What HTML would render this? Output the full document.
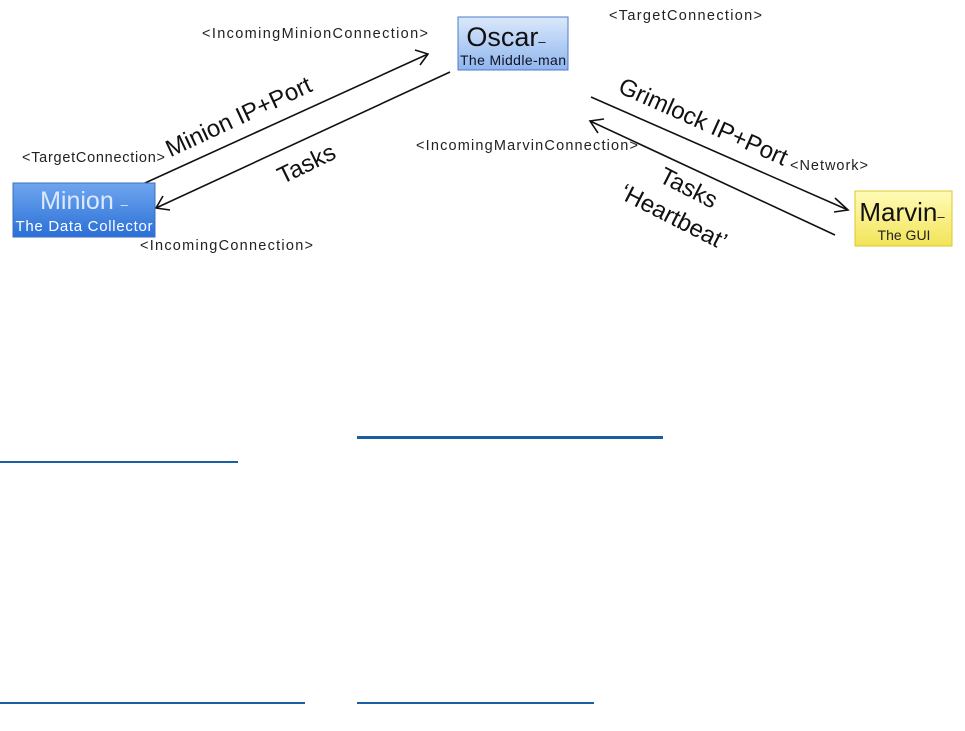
<!DOCTYPE html>
<html><head><meta charset="utf-8"><style>
html,body{margin:0;padding:0;background:#fff;}
body{width:965px;height:731px;position:relative;overflow:hidden;font-family:"Liberation Sans","DejaVu Sans",sans-serif;}
.ln{position:absolute;background:#1a5fa0;}
</style></head><body>
<svg width="965" height="731" style="position:absolute;left:0;top:0" font-family="Liberation Sans, DejaVu Sans, sans-serif">
<defs>
<linearGradient id="gb" x1="0" y1="0" x2="0" y2="1"><stop offset="0" stop-color="#6fa6ee"/><stop offset="1" stop-color="#2a6fd8"/></linearGradient>
<linearGradient id="go" x1="0" y1="0" x2="0" y2="1"><stop offset="0" stop-color="#dbe8fb"/><stop offset="1" stop-color="#8fb6ee"/></linearGradient>
<linearGradient id="gy" x1="0" y1="0" x2="0" y2="1"><stop offset="0" stop-color="#fffbb8"/><stop offset="1" stop-color="#f2e458"/></linearGradient>
</defs>
<g stroke="#111" stroke-width="1.6" fill="none">
<line x1="145" y1="183" x2="428" y2="54"/><polyline points="415,50 428,54 420,65"/>
<line x1="450" y1="72" x2="156" y2="208"/><polyline points="163,196 156,208 170,210"/>
<line x1="591" y1="97" x2="848" y2="210"/><polyline points="835,198 848,210 834,212"/>
<line x1="835" y1="235" x2="590" y2="121"/><polyline points="604,119 590,121 598,133"/>
</g>
<rect x="13" y="183" width="142" height="54" fill="url(#gb)" stroke="#3a70c0"/>
<text x="84" y="209" font-size="25" fill="#dce9ff" text-anchor="middle">Minion <tspan font-size="13">–</tspan></text>
<text x="84" y="231" font-size="15" fill="#fff" text-anchor="middle" textLength="137">The Data Collector</text>
<rect x="458" y="17" width="110" height="53" fill="url(#go)" stroke="#4a7cc8"/>
<text x="506" y="46" font-size="27" fill="#111" text-anchor="middle">Oscar<tspan font-size="13">–</tspan></text>
<text x="513" y="65" font-size="14" fill="#112" text-anchor="middle" textLength="106">The Middle-man</text>
<rect x="855" y="191" width="97" height="55" fill="url(#gy)" stroke="#d8c830"/>
<text x="902" y="221" font-size="26" fill="#111" text-anchor="middle">Marvin<tspan font-size="13">–</tspan></text>
<text x="904" y="240" font-size="14" fill="#222" text-anchor="middle">The GUI</text>
<g font-size="14.5" fill="#222">
<text x="202" y="38" textLength="226">&lt;IncomingMinionConnection&gt;</text>
<text x="22" y="162" textLength="143">&lt;TargetConnection&gt;</text>
<text x="140" y="250" textLength="173">&lt;IncomingConnection&gt;</text>
<text x="609" y="20" textLength="153">&lt;TargetConnection&gt;</text>
<text x="416" y="150" textLength="222">&lt;IncomingMarvinConnection&gt;</text>
<text x="790" y="170" textLength="78">&lt;Network&gt;</text>
</g>
<g font-size="24" fill="#111">
<text transform="translate(242,124) rotate(-25)" text-anchor="middle">Minion IP+Port</text>
<text transform="translate(310,171) rotate(-26)" text-anchor="middle">Tasks</text>
<text transform="translate(700,129) rotate(24)" text-anchor="middle">Grimlock IP+Port</text>
<text transform="translate(685,195) rotate(27)" text-anchor="middle">Tasks</text>
<text transform="translate(670,224) rotate(27)" text-anchor="middle">‘Heartbeat’</text>
</g>
</svg>
<div class="ln" style="left:357px;top:436px;width:306px;height:3px"></div>
<div class="ln" style="left:0;top:461px;width:238px;height:2px"></div>
<div class="ln" style="left:0;top:702px;width:305px;height:2px"></div>
<div class="ln" style="left:357px;top:702px;width:237px;height:2px"></div>
</body></html>
